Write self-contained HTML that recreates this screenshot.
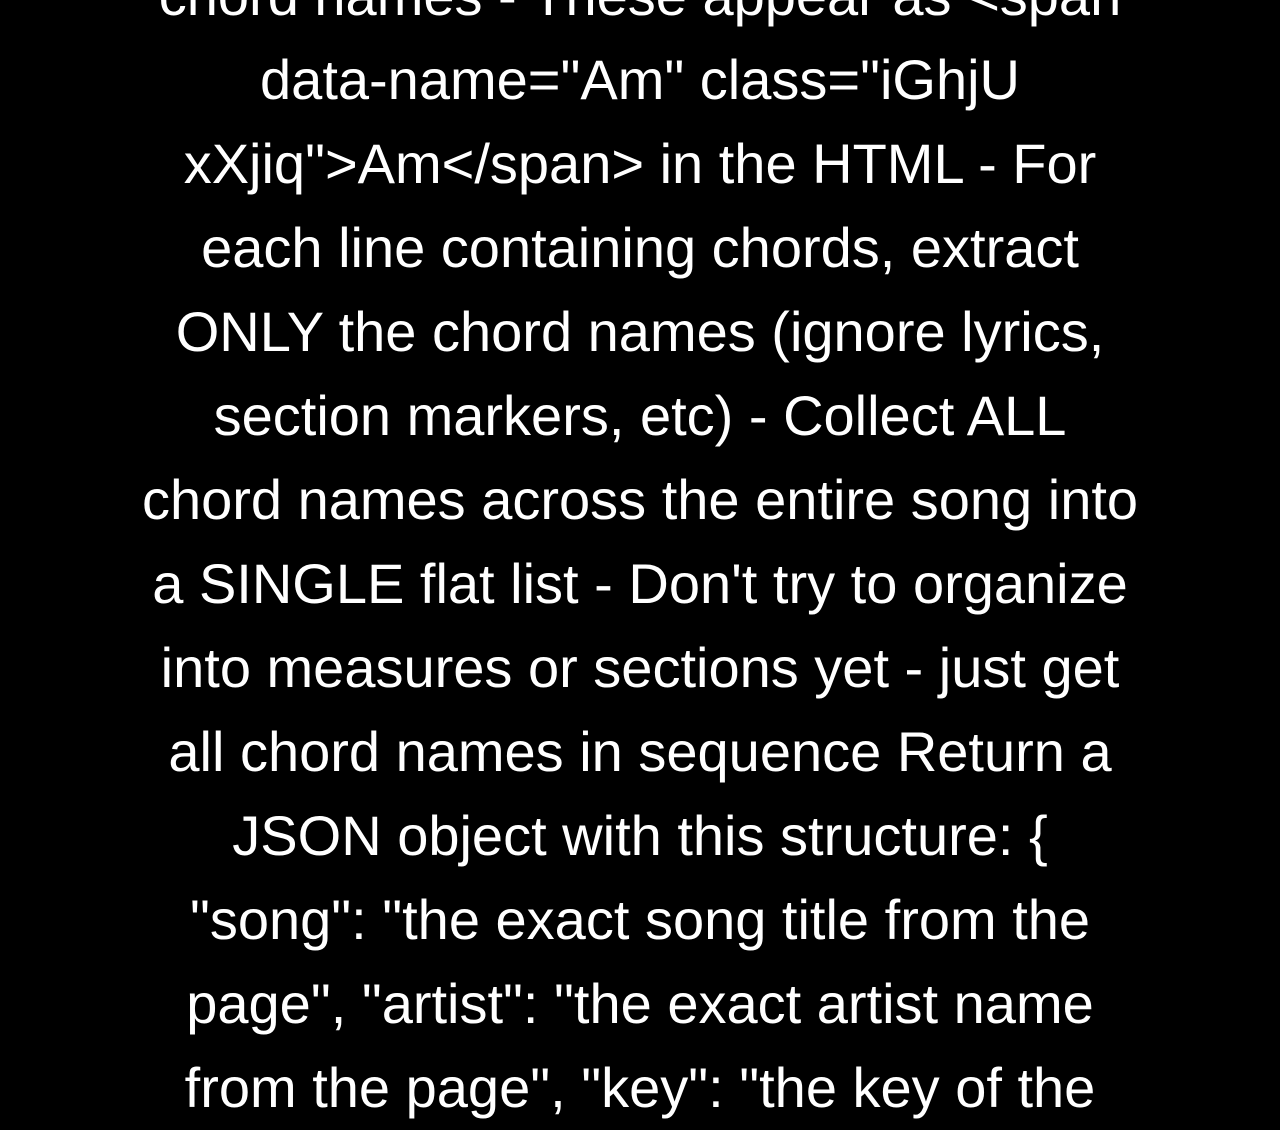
<!DOCTYPE html>
<html><head><meta charset="utf-8"><style>
html,body{margin:0;padding:0;background:#000;width:1280px;height:1100px;overflow:hidden}
.t{position:absolute;left:0;top:-46px;width:1280px;text-align:center;color:#fff;font-family:"Liberation Sans",Arial,sans-serif;font-size:56px;line-height:84px;white-space:nowrap}
</style></head><body><div class="t">
chord names - These appear as &lt;span<br>
data-name="Am" class="iGhjU<br>
xXjiq"&gt;Am&lt;/span&gt; in the HTML - For<br>
each line containing chords, extract<br>
ONLY the chord names (ignore lyrics,<br>
section markers, etc) - Collect ALL<br>
chord names across the entire song into<br>
a SINGLE flat list - Don't try to organize<br>
into measures or sections yet - just get<br>
all chord names in sequence Return a<br>
JSON object with this structure: {<br>
"song": "the exact song title from the<br>
page", "artist": "the exact artist name<br>
from the page", "key": "the key of the
</div></body></html>
